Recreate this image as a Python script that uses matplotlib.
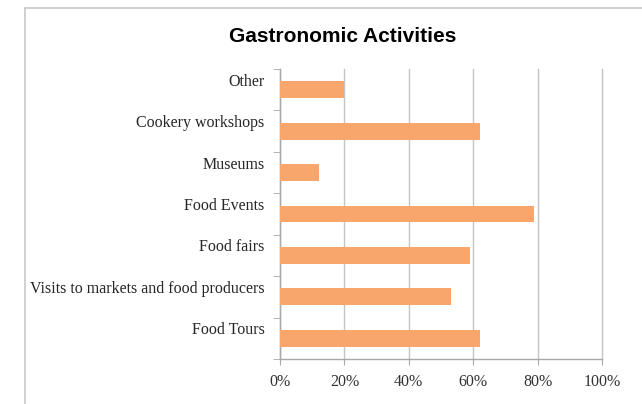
import matplotlib

matplotlib.use("Agg")
import matplotlib.pyplot as plt
import matplotlib.transforms as mtransforms
from matplotlib.lines import Line2D
import numpy as np

# data, top to bottom as drawn
categories = ["Other", "Cookery workshops", "Museums", "Food Events", "Food fairs",
              "Visits to markets and food producers", "Food Tours"]
shares = [0.20, 0.62, 0.12, 0.79, 0.59, 0.53, 0.62]
x_ticks = [0.0, 0.2, 0.4, 0.6, 0.8, 1.0]
x_labels = ["0%", "20%", "40%", "60%", "80%", "100%"]

BAR = "#F9A66C"
GRID = "#C4C4C4"
AXIS = "#A8A8A8"
SERIF = ["Liberation Serif", "DejaVu Serif"]

fig = plt.figure(figsize=(6.42, 4.04), dpi=100)
ax = fig.add_axes([280 / 642, 1 - 359 / 404, 322 / 642, 290 / 404])

n = len(categories)
ypos = np.arange(n)[::-1]  # first category at the top
ax.barh(ypos, shares, height=0.41, color=BAR, zorder=3)
ax.set_xlim(0, 1)
ax.set_ylim(-0.5, n - 0.5)

ax.set_xticks(x_ticks)
ax.set_xticklabels(x_labels, family=SERIF, fontsize=11.5, color="#333333")
ax.xaxis.grid(True, color=GRID, linewidth=1.0, zorder=0)
for gl in ax.get_xgridlines():
    gl.set_clip_on(False)
ax.tick_params(axis="x", length=4, color=AXIS, pad=7)

# category labels sit above the bars, ticks mark the band edges
ax.set_yticks(ypos)
ax.set_yticklabels(categories, family=SERIF, fontsize=11.5, color="#262626")
ax.set_yticks(np.arange(n + 1) - 0.5, minor=True)
ax.tick_params(axis="y", which="major", length=0, pad=11)
ax.tick_params(axis="y", which="minor", length=5, color=AXIS)
shift = mtransforms.ScaledTranslation(0, 10 / 100, fig.dpi_scale_trans)
for lab in ax.get_yticklabels():
    lab.set_transform(lab.get_transform() + shift)

for side in ("top", "right"):
    ax.spines[side].set_visible(False)
for side in ("left", "bottom"):
    ax.spines[side].set_color(AXIS)
    ax.spines[side].set_linewidth(1.0)

fig.text(343 / 642, 1 - 37 / 404, "Gastronomic Activities", ha="center", va="center",
         family=["Liberation Sans", "DejaVu Sans"], fontsize=15, fontweight="bold")

# outer chart frame (only top and left edges are in view)
fig.add_artist(Line2D([25 / 642, 1.0], [1 - 8 / 404, 1 - 8 / 404], color="#C8C8C8", linewidth=1.2,
                      transform=fig.transFigure))
fig.add_artist(Line2D([25 / 642, 25 / 642], [0.0, 1 - 8 / 404], color="#C8C8C8", linewidth=1.2,
                      transform=fig.transFigure))

fig.savefig("out.png", dpi=100)
